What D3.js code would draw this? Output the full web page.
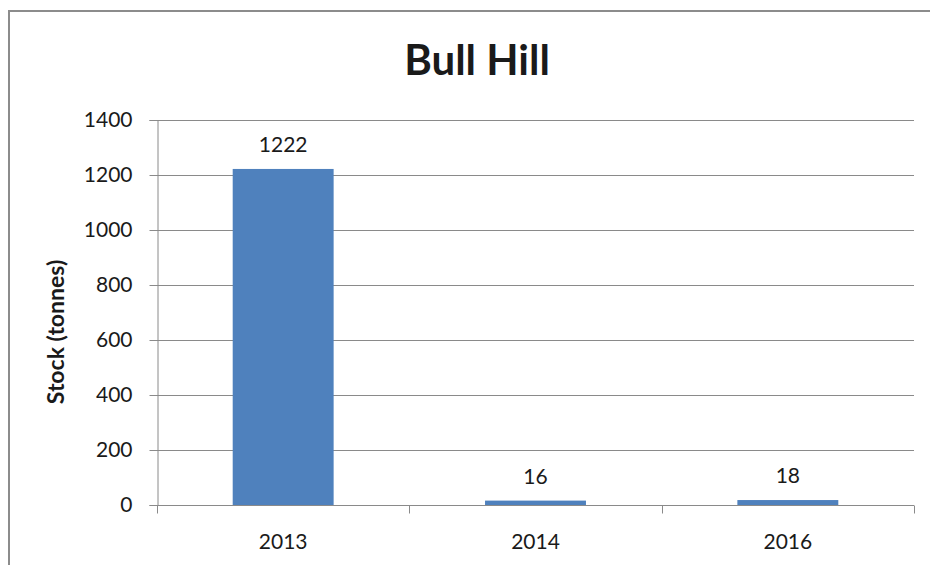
<!DOCTYPE html>
<html>
<head>
<meta charset="utf-8">
<script src="https://cdn.jsdelivr.net/npm/d3@7"></script>
<style>
  html, body { margin: 0; padding: 0; background: #fff; }
  svg { display: block; }
  text { font-family: Lato, "Open Sans", "Liberation Sans", sans-serif; fill: #1a1a1a; }
</style>
</head>
<body>
<svg id="chart" width="930" height="565"></svg>
<script>
// Chart data
const categories = ["2013", "2014", "2016"];
const stock = [1222, 16, 18];
const yTicks = [0, 200, 400, 600, 800, 1000, 1200, 1400];
const title = "Bull Hill";
const yTitle = "Stock (tonnes)";

const svg = d3.select("#chart");

// Chart frame
svg.append("rect")
  .attr("x", 9).attr("y", 11)
  .attr("width", 940).attr("height", 580)
  .attr("fill", "#fff")
  .attr("stroke", "#8c8c8c")
  .attr("stroke-width", 2);

const plot = { left: 157, right: 914, top: 120, bottom: 505 };

const x = d3.scaleBand()
  .domain(categories)
  .range([plot.left, plot.right])
  .paddingInner(0.6)
  .paddingOuter(0.3);

const y = d3.scaleLinear()
  .domain([0, 1400])
  .range([plot.bottom, plot.top]);

// Horizontal gridlines
svg.append("g")
  .selectAll("line")
  .data(yTicks.filter(d => d > 0))
  .join("line")
  .attr("x1", plot.left).attr("x2", plot.right)
  .attr("y1", d => Math.round(y(d)) + 0.5)
  .attr("y2", d => Math.round(y(d)) + 0.5)
  .attr("stroke", "#8a8a8a")
  .attr("stroke-width", 1);

// Bars
svg.append("g")
  .selectAll("rect")
  .data(stock)
  .join("rect")
  .attr("x", (d, i) => x(categories[i]))
  .attr("width", x.bandwidth())
  .attr("y", d => y(d))
  .attr("height", d => y(0) - y(d))
  .attr("fill", "#4f81bd");

// Value labels
svg.append("g")
  .selectAll("text")
  .data(stock)
  .join("text")
  .attr("x", (d, i) => x(categories[i]) + x.bandwidth() / 2)
  .attr("y", d => y(d) - 17)
  .attr("text-anchor", "middle")
  .attr("font-size", 21)
  .text(d => d);

// Y axis
const yAxis = d3.axisLeft(y)
  .tickValues(yTicks)
  .tickSize(8)
  .tickPadding(17)
  .tickFormat(d3.format("d"));
const gy = svg.append("g")
  .attr("transform", `translate(${plot.left + 0.5},0)`)
  .call(yAxis);
gy.select(".domain").attr("stroke", "#8a8a8a");
gy.selectAll(".tick line").attr("stroke", "#8a8a8a");
gy.selectAll(".tick text")
  .attr("font-size", 21)
  .attr("font-family", "Lato, 'Open Sans', sans-serif")
  .attr("fill", "#1a1a1a");

// X axis with tick marks at category boundaries
const gx = svg.append("g")
  .attr("transform", `translate(0,${plot.bottom + 0.5})`);
gx.append("line")
  .attr("x1", plot.left).attr("x2", plot.right)
  .attr("stroke", "#8a8a8a");
const step = (plot.right - plot.left) / categories.length;
gx.selectAll("line.tick")
  .data(d3.range(categories.length + 1))
  .join("line")
  .attr("class", "tick")
  .attr("x1", i => Math.round(plot.left + i * step) + 0.5)
  .attr("x2", i => Math.round(plot.left + i * step) + 0.5)
  .attr("y1", 0).attr("y2", 8)
  .attr("stroke", "#8a8a8a");
gx.selectAll("text")
  .data(categories)
  .join("text")
  .attr("x", d => x(d) + x.bandwidth() / 2)
  .attr("y", 43)
  .attr("text-anchor", "middle")
  .attr("font-size", 21)
  .text(d => d);

// Title
svg.append("text")
  .attr("x", 477).attr("y", 75)
  .attr("text-anchor", "middle")
  .attr("font-size", 42)
  .attr("font-weight", "bold")
  .attr("fill", "#000")
  .text(title);

// Y axis title
svg.append("text")
  .attr("transform", "translate(64,332) rotate(-90)")
  .attr("text-anchor", "middle")
  .attr("font-size", 23)
  .attr("font-weight", "bold")
  .attr("fill", "#000")
  .text(yTitle);
</script>
</body>
</html>
